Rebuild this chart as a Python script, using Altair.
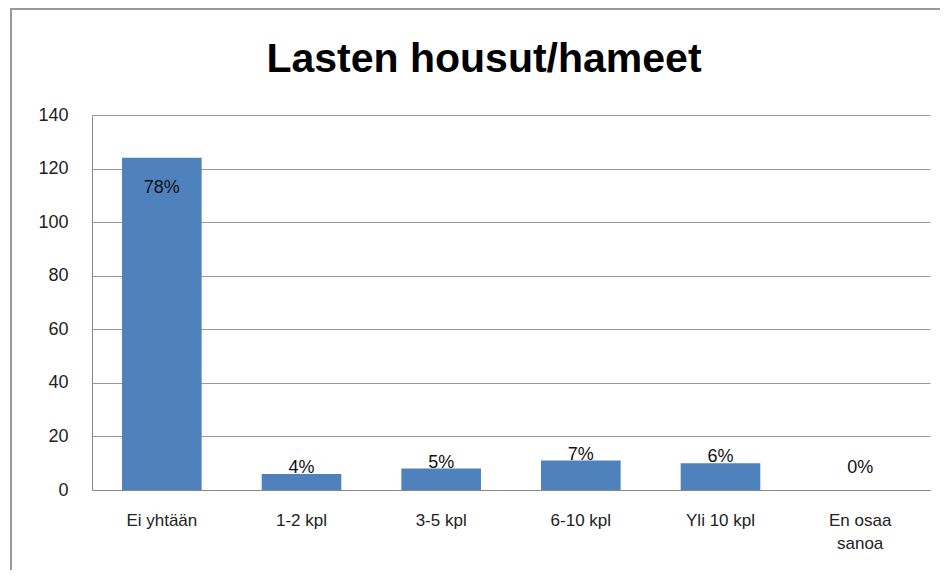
import altair as alt
import pandas as pd

categories = ["Ei yhtään", "1-2 kpl", "3-5 kpl", "6-10 kpl", "Yli 10 kpl", "En osaa sanoa"]
counts = [124, 6, 8, 11, 10, 0]
percent_labels = ["78%", "4%", "5%", "7%", "6%", "0%"]

df = pd.DataFrame({"cat": categories, "n": counts, "pct": percent_labels})

FONT = "Liberation Sans"
BLUE = "#4F81BD"

x_enc = alt.X(
    "cat:N", sort=categories, title=None,
    scale=alt.Scale(paddingInner=0.43, paddingOuter=0.215),
    axis=alt.Axis(
        labelAngle=0, labelFontSize=17, labelFont=FONT, labelColor="#222",
        labelPadding=22, ticks=False, domainColor="#888", grid=False,
        labelExpr="datum.value == 'En osaa sanoa' ? ['En osaa', 'sanoa'] : datum.value",
        labelLineHeight=23,
    ),
)
y_enc = alt.Y(
    "n:Q", title=None,
    scale=alt.Scale(domain=[0, 140]),
    axis=alt.Axis(
        values=[0, 20, 40, 60, 80, 100, 120, 140], labelFontSize=18, labelFont=FONT,
        labelColor="#222", labelPadding=24, ticks=False, domainColor="#888",
        gridColor="#999", gridWidth=1,
    ),
)

base = alt.Chart(df)
bars = base.mark_bar(color=BLUE).encode(x=x_enc, y=y_enc)

inside = base.transform_filter("datum.n > 50").mark_text(
    font=FONT, fontSize=18, color="#111", baseline="middle", dy=30
).encode(x=alt.X("cat:N", sort=categories), y="n:Q", text="pct:N")

outside = base.transform_filter("datum.n <= 50 && datum.n > 0").mark_text(
    font=FONT, fontSize=18, color="#111", baseline="alphabetic", dy=-1
).encode(x=alt.X("cat:N", sort=categories), y="n:Q", text="pct:N")

zero = base.transform_filter("datum.n == 0").mark_text(
    font=FONT, fontSize=18, color="#111", baseline="alphabetic", dy=-17
).encode(x=alt.X("cat:N", sort=categories), y="n:Q", text="pct:N")

frame = alt.Chart(pd.DataFrame({"a": [0]})).mark_rect(
    fill=None, stroke="#999", strokeWidth=2
).encode(
    x=alt.value(-81), x2=alt.value(900), y=alt.value(-106), y2=alt.value(520)
)

chart = alt.layer(bars, inside, outside, zero, frame).properties(
    width=838, height=375,
    autosize=alt.AutoSizeParams(type="none"),
    padding={"left": 84, "top": 107, "right": 10, "bottom": 80},
    title=alt.TitleParams(
        "Lasten housut/hameet", font=FONT, fontSize=41, fontWeight="bold",
        color="#000", anchor="middle", dx=-27, offset=-73,
    ),
).configure_view(stroke=None)

chart.save("out.html", embed_options={"renderer": "svg", "actions": False})
